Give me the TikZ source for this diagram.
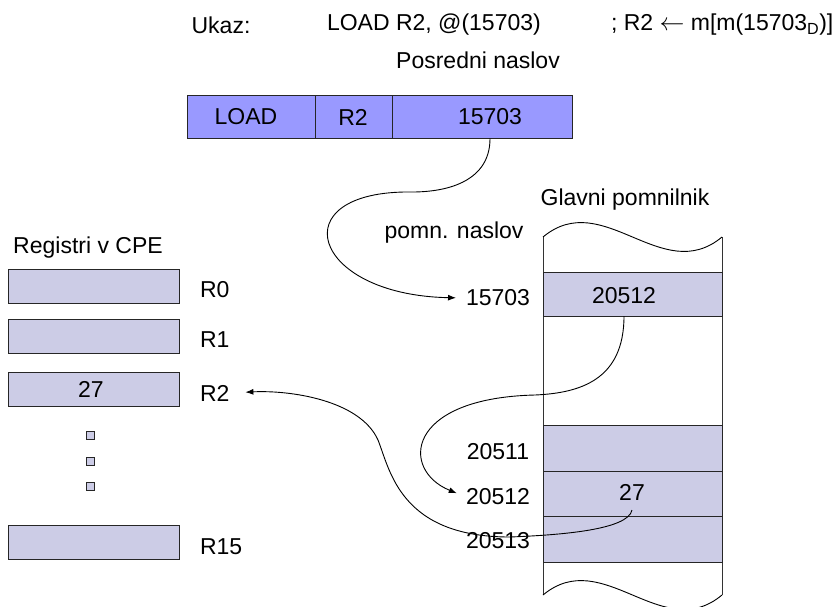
\documentclass[tikz,border=0pt]{standalone}
\usepackage{fontspec}
\setmainfont{Liberation Sans}
\usepackage{xcolor}
\usepackage{tikz}
\usetikzlibrary{shapes,arrows,arrows.meta}
\tikzstyle{rectblock} = [rectangle, draw=black!85, line width=1pt, inner sep=0pt, outer sep=0pt]
\tikzstyle{instrbox} = [rectblock, fill=iblue, minimum height=43pt]
\tikzstyle{regbox} = [rectblock, fill=rlav, minimum width=171pt, minimum height=34pt]
\tikzstyle{memcell} = [rectblock, fill=rlav, minimum width=179pt]
\tikzstyle{dotbox} = [rectblock, fill=rlav, line width=0.8pt, minimum width=8pt, minimum height=8pt]
\tikzstyle{lbl} = [inner sep=0pt, outer sep=0pt]
\tikzstyle{pointer} = [draw, line width=0.9pt, -{Latex[length=8pt, width=6pt]}]
\definecolor{iblue}{RGB}{153,153,255}
\definecolor{rlav}{RGB}{204,204,230}

\begin{document}
\begin{tikzpicture}[x=1pt, y=-1pt, font=\fontsize{23pt}{27pt}\selectfont]
    \useasboundingbox (0, 0) rectangle (840, 606);

    % instruction
    \node[lbl] at (221, 25) (ukaz) {Ukaz:};
    \node[lbl, anchor=west] at (327, 25) (instr) {LOAD R2, @(15703)};
    \node[lbl, anchor=west] at (611, 25) (comment) {; R2 \(\leftarrow\) m[m(15703\textsubscript{D})]};
    \node[lbl] at (478, 60) (posredni) {Posredni naslov};
    \node[instrbox, minimum width=128pt] at (251, 117) (op) {};
    \node[instrbox, minimum width=77pt] at (353.5, 117) (reg) {};
    \node[instrbox, minimum width=180pt] at (482, 117) (addr) {};
    \node[lbl] at (246, 117) (optxt) {LOAD};
    \node[lbl] at (353, 117) (regtxt) {R2};
    \node[lbl] at (490, 117) (addrtxt) {15703};

    % registers
    \node[lbl] at (88, 248) (registri) {Registri v CPE};
    \node[regbox] at (93.5, 286) (r0) {};
    \node[regbox] at (93.5, 336) (r1) {};
    \node[regbox] at (93.5, 389) (r2) {};
    \node[regbox] at (93.5, 542) (r15) {};
    \node[lbl] at (91, 389) (r2txt) {27};
    \node[lbl, anchor=west] at (200, 290) (r0lbl) {R0};
    \node[lbl, anchor=west] at (200, 340) (r1lbl) {R1};
    \node[lbl, anchor=west] at (200, 393) (r2lbl) {R2};
    \node[lbl, anchor=west] at (200, 547) (r15lbl) {R15};
    \node[dotbox] at (90, 435.5) (dot1) {};
    \node[dotbox] at (90, 461) (dot2) {};
    \node[dotbox] at (90, 486) (dot3) {};

    % main memory
    \node[lbl] at (625, 200) (glavni) {Glavni pomnilnik};
    \node[lbl] at (454, 233) (pomn) {pomn. naslov};
    \draw[line width=0.9pt, black!80] (543, 237) -- (543, 595);
    \draw[line width=0.9pt, black!80] (722, 237) -- (722, 595);
    \draw[line width=0.9pt] (543, 237) .. controls (603, 187) and (662, 287) .. (722, 237);
    \draw[line width=0.9pt] (543, 595) .. controls (603, 545) and (662, 645) .. (722, 595);
    \node[memcell, minimum height=44pt] at (632.5, 294) (m0) {};
    \node[memcell, minimum height=46pt] at (632.5, 448) (m1) {};
    \node[memcell, minimum height=45pt] at (632.5, 493.5) (m2) {};
    \node[memcell, minimum height=46pt] at (632.5, 539) (m3) {};
    \node[lbl] at (624, 296) (m0txt) {20512};
    \node[lbl] at (632, 492) (m2txt) {27};
    \node[lbl] at (498, 298) (a0) {15703};
    \node[lbl] at (498, 452) (a1) {20511};
    \node[lbl] at (498, 497) (a2) {20512};
    \node[lbl] at (498, 541) (a3) {20513};

    % pointers
    \path[pointer, shorten >=10pt] (addrtxt |- addr.south) .. controls (490, 180) and (450, 192) .. (412, 192)
        .. controls (280, 190) and (310, 295) .. (a0.west);
    \path[pointer, shorten >=10pt] (m0txt |- m0.south) .. controls (624, 380) and (580, 393) .. (535, 395)
        .. controls (405, 398) and (400, 470) .. (a2.west);
    \path[pointer, shorten >=16pt] ([yshift=-10pt]m2txt.south) .. controls (628, 530) and (560, 535) .. (510, 537)
        .. controls (400, 537) and (390, 470) .. (378, 440)
        .. controls (360, 400) and (290, 390) .. (r2lbl.east);

\end{tikzpicture}
\end{document}
